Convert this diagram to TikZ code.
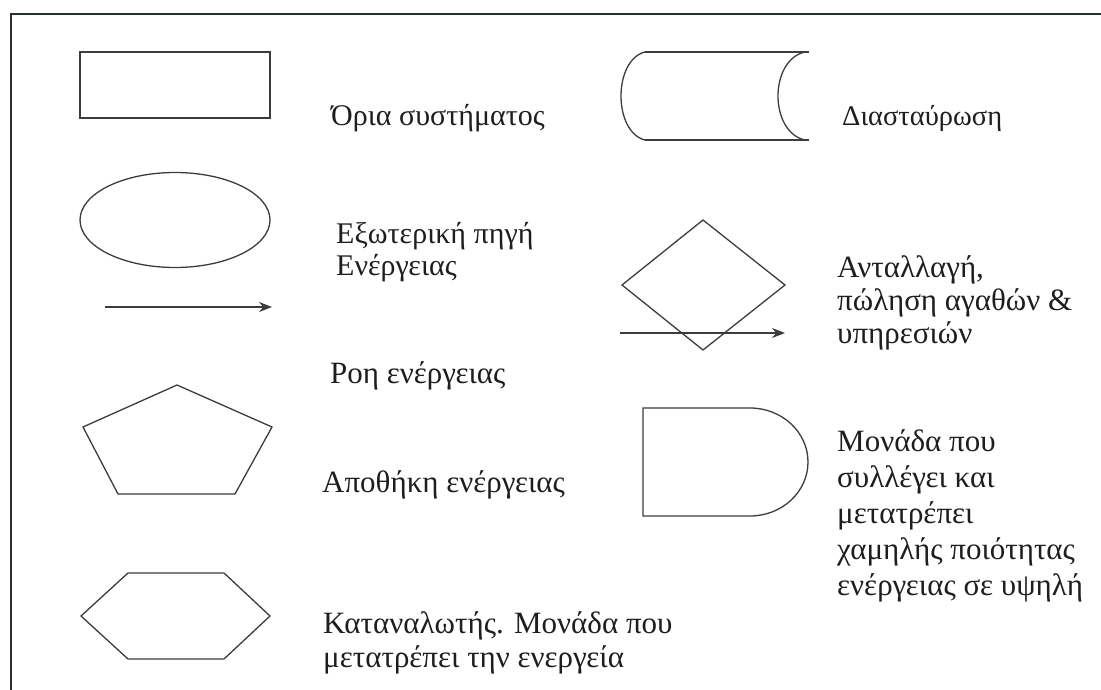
\documentclass[tikz,border=0pt]{standalone}
\usepackage{fontspec}
\setmainfont{Liberation Serif}
\usetikzlibrary{shapes.geometric,arrows.meta}
\definecolor{linegray}{RGB}{60,60,60}
\definecolor{textgray}{RGB}{30,30,30}
\definecolor{bordergray}{RGB}{40,48,48}
\begin{document}
\begin{tikzpicture}[x=1pt,y=-1pt,line join=miter,
  symb/.style={draw=linegray,line width=1.3pt},
  lbl/.style={anchor=base west,inner sep=0pt,font=\fontsize{31}{35}\selectfont,align=left,text=textgray},
  lbltop/.style={lbl,font=\fontsize{28.5}{34}\selectfont},
  flow/.style={draw=linegray,line width=1.3pt,-{Stealth[length=13pt,width=10pt]}}]
\useasboundingbox (0,0) rectangle (1101,690);
\draw[draw=bordergray,line width=1.6pt] (1101,14) -- (11,14) -- (11,690);
% left column
\node[symb,rectangle,minimum width=190pt,minimum height=66pt,inner sep=0pt] (bound) at (175,85) {};
\node[lbltop,font=\fontsize{30}{34}\selectfont] (tbound) at (331,126) {Όρια συστήματος};
\node[symb,ellipse,minimum width=190pt,minimum height=95pt,inner sep=0pt] (source) at (175,220) {};
\node[lbl,font=\fontsize{30}{32}\selectfont] (tsource) at (336,275) {Εξωτερική πηγή\\Ενέργειας};
\coordinate (f1s) at (105,307);
\coordinate (f1e) at (272,307);
\draw[flow] (f1s) -- (f1e);
\node[lbl] (tflow) at (330,383) {Ροη ενέργειας};
\draw[symb] (177,385) -- (272,427) -- (235,494) -- (118,494) -- (83,427) -- cycle;
\node[lbl] (tstore) at (322,492) {Αποθήκη ενέργειας};
\draw[symb] (128,573) -- (224,573) -- (270,616) -- (224,659) -- (128,659) -- (81,616) -- cycle;
\node[lbl,font=\fontsize{31}{34}\selectfont] (tcons) at (323,667) {Καταναλωτής. Μονάδα που\\μετατρέπει την ενεργεία};
% right column
\draw[symb] (645,52) -- (809,52);
\draw[symb] (645,140) -- (809,140);
\draw[symb] (645,52) .. controls (613,60) and (613,132) .. (645,140);
\draw[symb] (805,52) .. controls (769,60) and (769,132) .. (805,140);
\node[lbltop] (tcross) at (842,126) {Διασταύρωση};
\draw[symb] (703,220) -- (785,285) -- (703,350) -- (622,285) -- cycle;
\coordinate (f2s) at (620,333);
\coordinate (f2e) at (785,333);
\draw[flow] (f2s) -- (f2e);
\node[lbl,font=\fontsize{31}{33}\selectfont] (texch) at (837,343) {Ανταλλαγή,\\πώληση αγαθών \&\\υπηρεσιών};
\draw[symb] (750,408) -- (643,408) -- (643,516) -- (750,516) arc[start angle=90,end angle=-90,x radius=58,y radius=54];
\node[lbl,font=\fontsize{31}{35.8}\selectfont] (tunit) at (837,595) {Μονάδα που\\συλλέγει και\\μετατρέπει\\χαμηλής ποιότητας\\ενέργειας σε υψηλή};
\end{tikzpicture}
\end{document}
